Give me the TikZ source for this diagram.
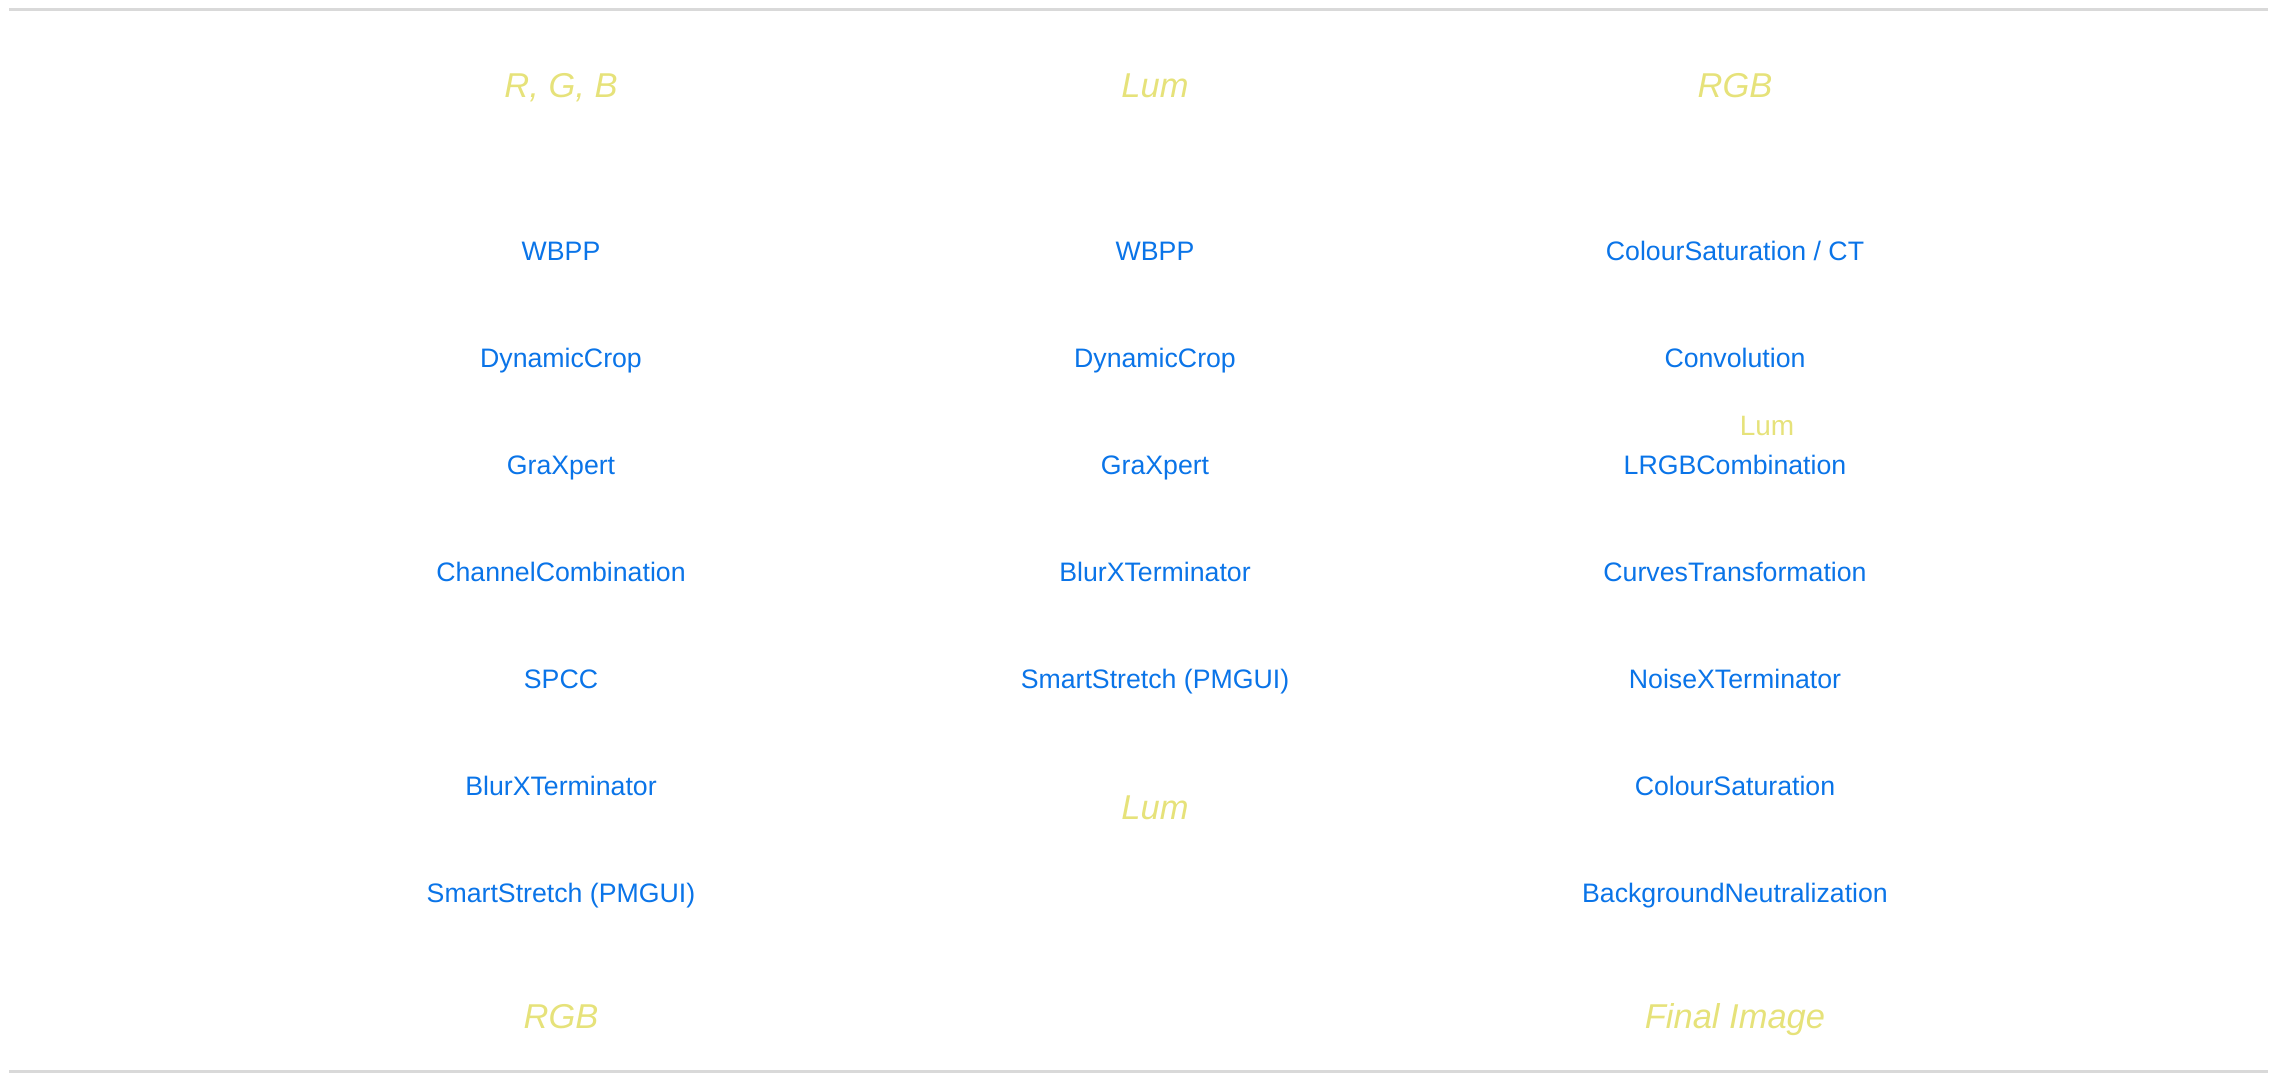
\documentclass[tikz,border=0pt]{standalone}
\usepackage{fontspec}
\setmainfont{Liberation Sans}
\definecolor{procblue}{HTML}{0A74E8}
\definecolor{stageyellow}{HTML}{E6E27A}
\definecolor{rulegray}{HTML}{D9D9D9}

\begin{document}
\begin{tikzpicture}[x = 0.5pt, y = -0.5pt,
  proc/.style = {text = procblue, font = \fontsize{13.35}{16}\selectfont, inner sep = 0pt, text height = 9.56pt, text depth = 0pt},
  stage/.style = {text = stageyellow, font = \fontsize{17.25}{20}\selectfont\itshape, inner sep = 0pt, text height = 12.35pt, text depth = 0pt},
  tag/.style = {text = stageyellow, font = \fontsize{14}{16}\selectfont, inner sep = 0pt, text height = 10pt, text depth = 0pt}]
\useasboundingbox (0,0) rectangle (2277,1082);
\draw [rulegray, line width = 1.5pt] (9,9) -- (2268,9);
\draw [rulegray, line width = 1.5pt] (9,1071) -- (2268,1071);
\node (rgbin) at (561,85) [stage] {R, G, B};
\node (lumin) at (1155,85) [stage] {Lum};
\node (rgbmid) at (1735,85) [stage] {RGB};
\foreach \t [count = \i] in {{WBPP}, {DynamicCrop}, {GraXpert}, {ChannelCombination}, {SPCC}, {BlurXTerminator}, {SmartStretch (PMGUI)}}
\node (rgb\i) at (561, 251 + 107*\i - 107) [proc] {\t};
\foreach \t [count = \i] in {{WBPP}, {DynamicCrop}, {GraXpert}, {BlurXTerminator}, {SmartStretch (PMGUI)}}
\node (lum\i) at (1155, 251 + 107*\i - 107) [proc] {\t};
\foreach \t [count = \i] in {{ColourSaturation / CT}, {Convolution}, {LRGBCombination}, {CurvesTransformation}, {NoiseXTerminator}, {ColourSaturation}, {BackgroundNeutralization}}
\node (fin\i) at (1735, 251 + 107*\i - 107) [proc] {\t};
\node (lumtag) at (1767,425) [tag] {Lum};
\node (lumout) at (1155,807) [stage] {Lum};
\node (rgbout) at (561,1016) [stage] {RGB};
\node (final) at (1735,1016) [stage] {Final Image};
\end{tikzpicture}
\end{document}
